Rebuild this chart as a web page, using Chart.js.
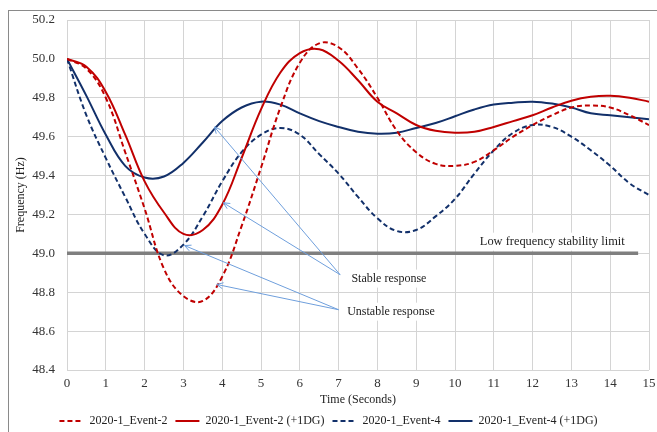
<!DOCTYPE html>
<html>
<head>
<meta charset="utf-8">
<script src="https://cdn.jsdelivr.net/npm/chart.js"></script>
<style>
  html, body { margin: 0; padding: 0; background: #fff; }
  #wrap { width: 657px; height: 432px; position: relative; }
</style>
</head>
<body>
<div id="wrap"><canvas id="freqChart"></canvas></div>
<script>
// time axis, 0.5 s steps
const times = [0, 0.5, 1, 1.5, 2, 2.5, 3, 3.5, 4, 4.5, 5, 5.5, 6, 6.5, 7, 7.5,
               8, 8.5, 9, 9.5, 10, 10.5, 11, 11.5, 12, 12.5, 13, 13.5, 14, 14.5, 15];

const event2 = [50.0, 49.95, 49.80, 49.52, 49.23, 48.92, 48.78, 48.755, 48.88, 49.14, 49.44, 49.75, 49.98, 50.08, 50.06, 49.95,
                49.80, 49.63, 49.52, 49.46, 49.45, 49.47, 49.53, 49.60, 49.66, 49.71, 49.75, 49.76, 49.75, 49.71, 49.66];
const event2DG = [50.0, 49.96, 49.83, 49.61, 49.37, 49.21, 49.10, 49.12, 49.25, 49.49, 49.74, 49.93, 50.03, 50.05, 49.99, 49.89,
                  49.78, 49.72, 49.66, 49.63, 49.62, 49.625, 49.65, 49.68, 49.71, 49.75, 49.785, 49.805, 49.81, 49.80, 49.78];
const event4 = [50.0, 49.71, 49.49, 49.29, 49.10, 48.99, 49.045, 49.19, 49.37, 49.52, 49.61, 49.645, 49.61, 49.51, 49.41, 49.29,
                49.18, 49.115, 49.12, 49.19, 49.28, 49.41, 49.53, 49.62, 49.66, 49.65, 49.60, 49.53, 49.45, 49.36, 49.30];
const event4DG = [50.0, 49.81, 49.61, 49.45, 49.39, 49.395, 49.465, 49.57, 49.68, 49.75, 49.78, 49.765, 49.72, 49.68, 49.65, 49.625,
                  49.615, 49.62, 49.645, 49.67, 49.705, 49.74, 49.765, 49.775, 49.78, 49.77, 49.75, 49.72, 49.71, 49.70, 49.69];

const seriesNames = ['2020-1_Event-2', '2020-1_Event-2 (+1DG)', '2020-1_Event-4', '2020-1_Event-4 (+1DG)'];
const yTicks = [48.4, 48.6, 48.8, 49.0, 49.2, 49.4, 49.6, 49.8, 50.0, 50.2];
const xTicks = [0, 1, 2, 3, 4, 5, 6, 7, 8, 9, 10, 11, 12, 13, 14, 15];

// stability limit and annotations (data coordinates)
const limitValue = 49.0;
const limitEnd = 14.72;
const limitLabel = 'Low frequency stability limit';
const stableArrows = [[7.04, 48.89, 3.8, 49.65], [7.04, 48.89, 4.03, 49.26]];
const unstableArrows = [[7.0, 48.71, 3.03, 49.04], [7.0, 48.71, 3.86, 48.84]];

const RED = '#c00000';
const NAVY = '#12306a';
const SERIF = "'Liberation Serif', 'Times New Roman', serif";

const toPoints = vals => vals.map((v, i) => ({ x: times[i], y: v }));

const frame = {
    id: 'frame',
    beforeDraw(chart) {
        const ctx = chart.ctx;
        ctx.save();
        ctx.strokeStyle = '#8a8a8a';
        ctx.lineWidth = 1;
        ctx.strokeRect(8.5, 10.5, 700, 500);
        ctx.restore();
    }
};

const notes = {
    id: 'notes',
    afterDatasetsDraw(chart) {
        const ctx = chart.ctx;
        const xs = chart.scales.x, ys = chart.scales.y;
        const px = t => xs.getPixelForValue(t);
        const py = v => ys.getPixelForValue(v);

        ctx.save();
        ctx.font = '12.4px ' + SERIF;
        ctx.textBaseline = 'middle';
        ctx.textAlign = 'left';

        // text boxes (white background)
        const label = (txt, t, v) => {
            const w = ctx.measureText(txt).width;
            ctx.fillStyle = '#fff';
            ctx.fillRect(px(t) - 3, py(v) - 9, w + 6, 18);
            ctx.fillStyle = '#222';
            ctx.fillText(txt, px(t), py(v));
        };
        label(limitLabel, 10.64, 49.06);
        ctx.font = '12px ' + SERIF;
        label('Stable response', 7.33, 48.87);
        label('Unstable response', 7.22, 48.70);

        // arrows
        ctx.strokeStyle = '#6f9fdc';
        ctx.lineWidth = 1;
        [...stableArrows, ...unstableArrows].forEach(a => {
            const x1 = px(a[0]), y1 = py(a[1]), x2 = px(a[2]), y2 = py(a[3]);
            ctx.beginPath();
            ctx.moveTo(x1, y1);
            ctx.lineTo(x2, y2);
            const ang = Math.atan2(y2 - y1, x2 - x1);
            const L = 7;
            ctx.moveTo(x2 - L * Math.cos(ang - 0.45), y2 - L * Math.sin(ang - 0.45));
            ctx.lineTo(x2, y2);
            ctx.lineTo(x2 - L * Math.cos(ang + 0.45), y2 - L * Math.sin(ang + 0.45));
            ctx.stroke();
        });
        ctx.restore();
    }
};

const ctx = document.getElementById('freqChart').getContext('2d');
const freqChart = new Chart(ctx, {
    type: 'line',
    data: {
        datasets: [
            {
                label: 'limit',
                data: [{ x: 0, y: limitValue }, { x: limitEnd, y: limitValue }],
                borderColor: '#7f7f7f',
                borderWidth: 3.5,
                pointRadius: 0,
                tension: 0,
                order: 5
            },
            {
                label: seriesNames[0],
                data: toPoints(event2),
                borderColor: RED,
                backgroundColor: RED,
                borderWidth: 2,
                borderDash: [5, 3],
                pointRadius: 0
            },
            {
                label: seriesNames[1],
                data: toPoints(event2DG),
                borderColor: RED,
                backgroundColor: RED,
                borderWidth: 2,
                pointRadius: 0
            },
            {
                label: seriesNames[2],
                data: toPoints(event4),
                borderColor: NAVY,
                backgroundColor: NAVY,
                borderWidth: 2,
                borderDash: [5, 3],
                pointRadius: 0
            },
            {
                label: seriesNames[3],
                data: toPoints(event4DG),
                borderColor: NAVY,
                backgroundColor: NAVY,
                borderWidth: 2,
                pointRadius: 0
            }
        ]
    },
    options: {
        responsive: true,
        maintainAspectRatio: false,
        animation: false,
        elements: { line: { tension: 0.4 } },
        layout: { padding: { left: 8, right: 8, top: 20, bottom: 0 } },
        plugins: {
            tooltip: { enabled: false },
            legend: {
                position: 'bottom',
                maxHeight: 25,
                labels: {
                    usePointStyle: true,
                    pointStyleWidth: 24,
                    color: '#222',
                    padding: 8,
                    font: { family: SERIF, size: 12 },
                    generateLabels: chart => chart.data.datasets
                        .map((ds, i) => ({
                            text: ds.label,
                            datasetIndex: i,
                            strokeStyle: ds.borderColor,
                            fillStyle: ds.borderColor,
                            fontColor: '#222',
                            lineWidth: 2,
                            lineDash: ds.borderDash || [],
                            pointStyle: 'line'
                        }))
                        .filter(item => item.text !== 'limit')
                }
            }
        },
        scales: {
            x: {
                type: 'linear',
                min: 0,
                max: 15,
                afterBuildTicks: s => { s.ticks = xTicks.map(v => ({ value: v })); },
                afterFit: s => { s.height = 37; s.paddingLeft = 0; s.paddingRight = 0; },
                grid: { color: '#d4d4d4', drawTicks: false },
                border: { display: false },
                ticks: { color: '#333', padding: 6, font: { family: SERIF, size: 13 } },
                title: { display: true, text: 'Time (Seconds)', color: '#222', padding: { top: 0, bottom: 0 }, font: { family: SERIF, size: 12 } }
            },
            y: {
                min: 48.4,
                max: 50.2,
                afterBuildTicks: s => { s.ticks = yTicks.map(v => ({ value: v })); },
                afterFit: s => { s.width = 59; },
                grid: { color: '#d4d4d4', drawTicks: false },
                border: { display: false },
                ticks: { color: '#333', padding: 12, font: { family: SERIF, size: 13 }, callback: v => v.toFixed(1) },
                title: { display: true, text: 'Frequency (Hz)', color: '#222', padding: { top: 6, bottom: 0 }, font: { family: SERIF, size: 12 } }
            }
        }
    },
    plugins: [frame, notes]
});
</script>
</body>
</html>
